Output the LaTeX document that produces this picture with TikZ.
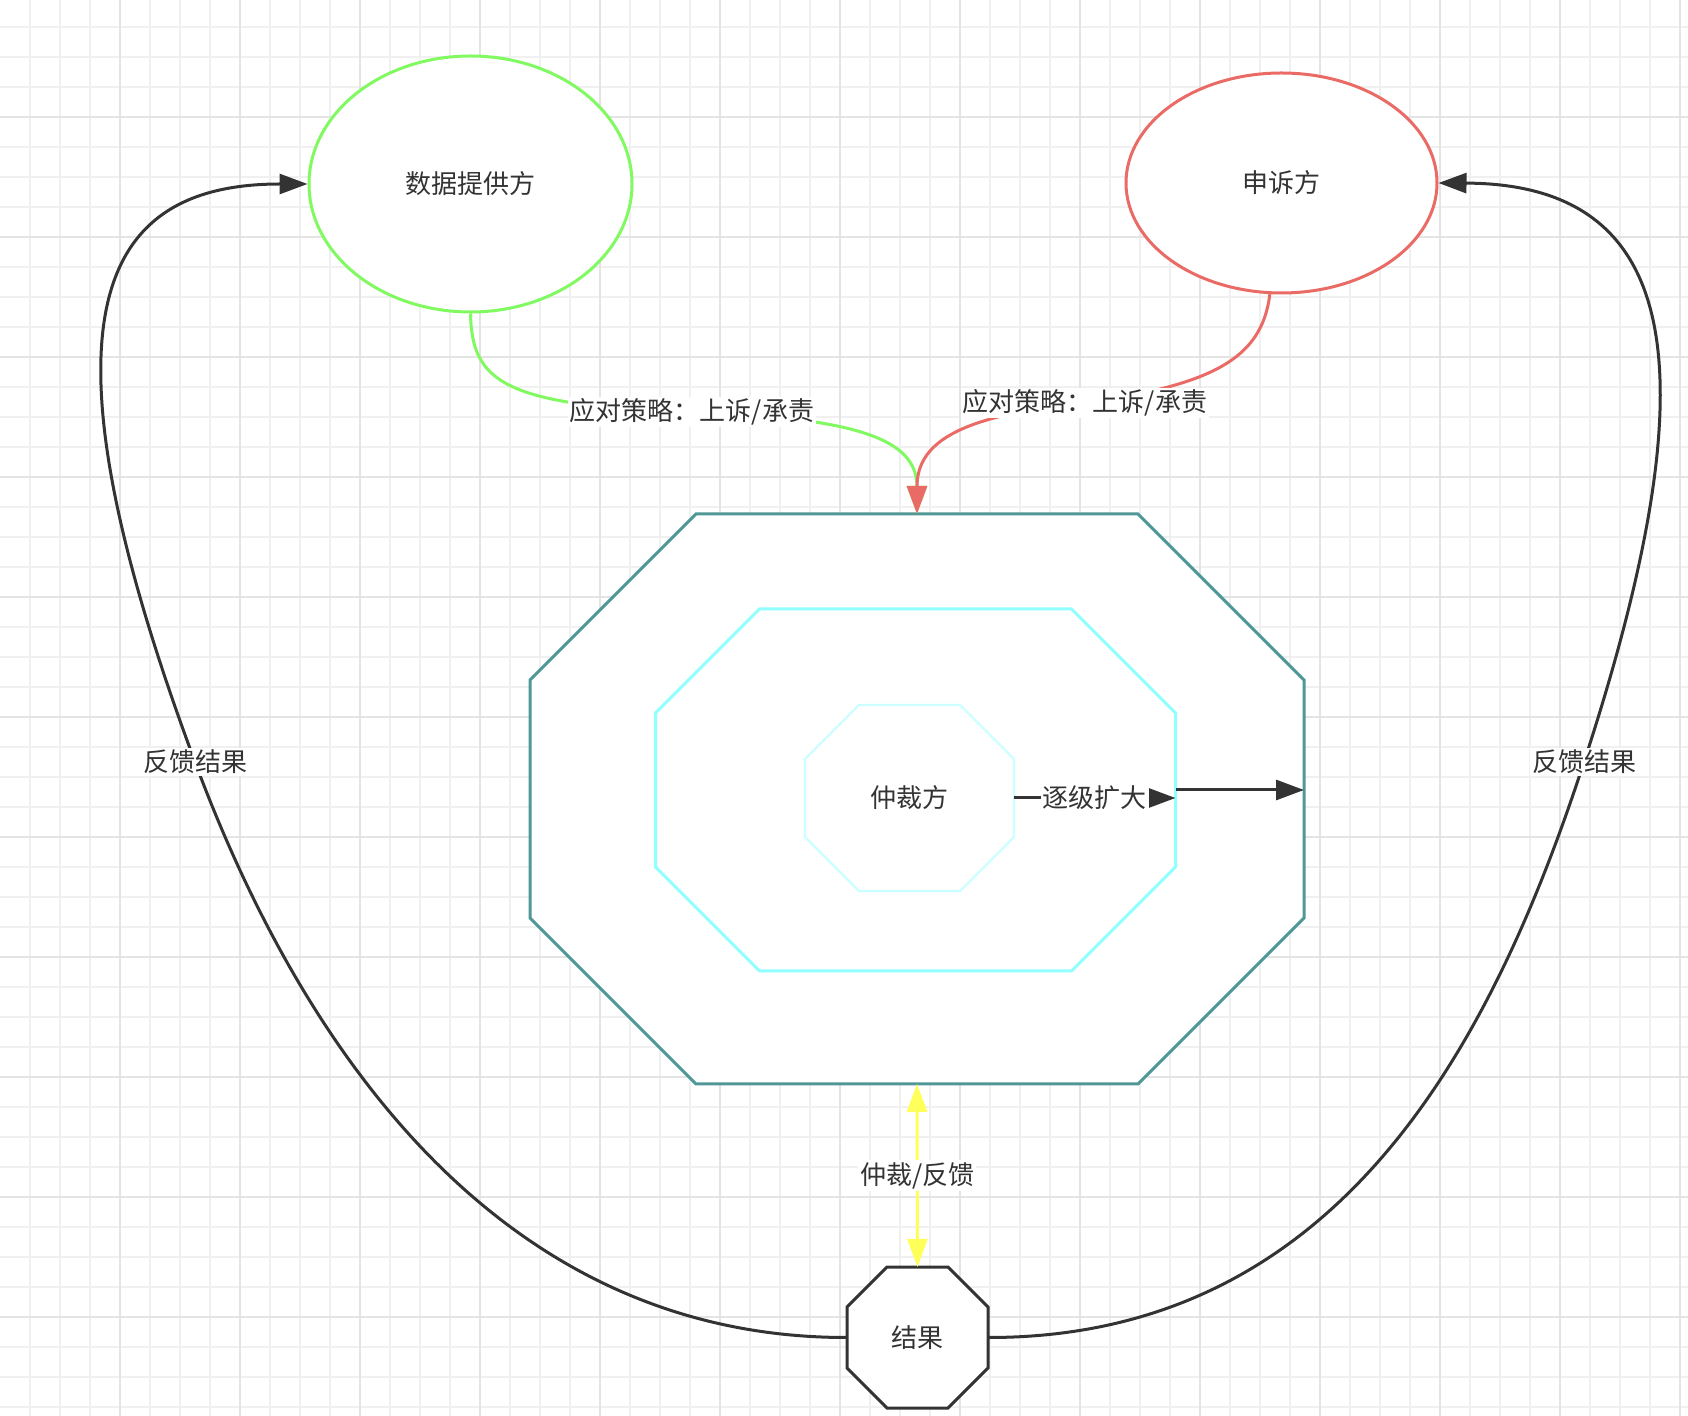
\documentclass[tikz,border=0pt]{standalone}
\usepackage{fontspec}
\setmainfont{Noto Sans CJK SC}
\usepackage{tikz}
\usepackage{xcolor}
\usetikzlibrary{shapes.geometric, arrows.meta, positioning, calc}
\definecolor{cText}{HTML}{333333}
\definecolor{cGridA}{HTML}{F0F0F0}
\definecolor{cGridB}{HTML}{E4E4E4}
\definecolor{cGreen}{RGB}{128,250,96}
\definecolor{cRed}{HTML}{EA6B66}
\definecolor{cTeal}{RGB}{80,152,152}
\definecolor{cCyan}{RGB}{145,255,255}
\definecolor{cPale}{RGB}{204,255,255}
\definecolor{cYellow}{RGB}{255,255,90}
\tikzset{
	party/.style   ={ellipse, line width=1.5pt, fill=white, text=cText, align=center},
	octo/.style    ={rectangle, inner sep=0pt, outer sep=0pt},
	lbl/.style     ={fill=white, inner sep=1pt, text=cText},
	gridline/.style={cGridA, line width=1pt},
	gridmajor/.style={cGridB, line width=1pt},
	% connectors
	strat/.style   ={-{Triangle[length=14pt, width=10pt]}, line width=1.5pt},
	feedback/.style={-{Triangle[length=14pt, width=10pt]}, line width=1.5pt, cText},
	escal/.style   ={-{Triangle[length=14pt, width=10pt]}, line width=1.5pt, cText},
	dual/.style    ={{Triangle[length=14pt, width=10pt]}-{Triangle[length=14pt, width=10pt]}, line width=1.5pt, cYellow},
}
% octagon round a (rectangular) node: #1 options, #2 node, #3 corner cut
\newcommand{\octbox}[3]{%
	\draw[#1] ([xshift=#3]#2.north west) -- ([xshift=-#3]#2.north east) -- ([yshift=-#3]#2.north east)
		-- ([yshift=#3]#2.south east) -- ([xshift=-#3]#2.south east) -- ([xshift=#3]#2.south west)
		-- ([yshift=#3]#2.south west) -- ([yshift=-#3]#2.north west) -- cycle;}

\begin{document}
\begin{tikzpicture}[x=0.5pt, y=0.5pt, font=\fontsize{13pt}{16pt}\selectfont]
	\useasboundingbox (0,0) rectangle (1688,-1416);
	\fill[white] (0,0) rectangle (1688,-1416);
	% grid
	\foreach \k in {0,...,55} \draw[gridline] (29.5+30*\k,0) -- ++(0,-1416);
	\foreach \k in {0,...,46} \draw[gridline] (0,-27-30*\k) -- ++(1688,0);
	\foreach \k in {3,7,...,55} \draw[gridmajor] (29.5+30*\k,0) -- ++(0,-1416);
	\foreach \k in {3,7,...,43} \draw[gridmajor] (0,-27-30*\k) -- ++(1688,0);

	\node[party, draw=cGreen, minimum width=161.5pt, minimum height=128pt] (provider) at (470.5,-184) {数据提供方};
	\node[party, draw=cRed, minimum width=155.5pt, minimum height=110pt] (appellant) at (1281.5,-183) {申诉方};

	% nested arbitration levels
	\node[octo, minimum width=387pt, minimum height=285pt] (outer) at (917,-799) {};
	\octbox{draw=cTeal, fill=white, line width=1.5pt}{outer}{83pt}
	\node[octo, minimum width=260pt, minimum height=181pt] (middle) at (915.5,-790) {};
	\octbox{draw=cCyan, fill=white, line width=1.5pt}{middle}{52pt}
	\node[octo, minimum width=104.5pt, minimum height=93pt] (inner) at (909.5,-798) {};
	\octbox{draw=cPale, fill=white, line width=1.2pt}{inner}{27pt}
	\node[text=cText] (arbiter) at (inner.center) {仲裁方};

	\node[octo, minimum width=70.5pt, minimum height=70.5pt] (result) at (917.5,-1337.5) {};
	\octbox{draw=cText, fill=white, line width=1.5pt}{result}{20pt}
	\node[text=cText] (outcome) at (result.center) {结果};

	\draw[strat, cGreen] (provider.south) .. controls (472,-380) and (500,-406) .. (692,-412)
		node[lbl] (gstrat) {应对策略：上诉/承责} .. controls (860,-418) and (917,-440) .. (outer.north);
	\draw[strat, cRed] (appellant.-96) .. controls (1262,-360) and (1210,-385) .. (1085,-403)
		node[lbl] (rstrat) {应对策略：上诉/承责} .. controls (965,-415) and (917,-440) .. (outer.north);

	\draw[escal] (inner.east) -- node[lbl] (up) {逐级扩大} (inner.east -| middle.east);
	\draw[escal] (middle.east) -- (middle.east -| outer.east);
	\draw[dual] (outer.south) -- node[lbl] (arbfb) {仲裁/反馈} (result.north);

	\draw[feedback] (result.west) .. controls (497,-1338) and (300,-1044) .. (195,-762)
		node[lbl] (lfb) {反馈结果} .. controls (27,-311) and (101,-184) .. (provider.west);
	\draw[feedback] (result.east) .. controls (1338,-1338) and (1491,-1047) .. (1584,-762)
		node[lbl] (rfb) {反馈结果} .. controls (1708,-382) and (1689,-184) .. (appellant.east);
\end{tikzpicture}
\end{document}
